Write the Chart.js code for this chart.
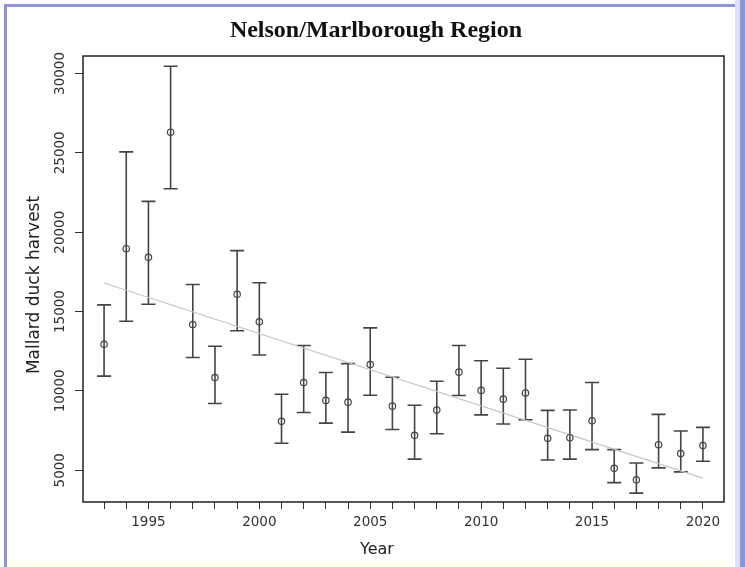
<!DOCTYPE html>
<html>
<head>
<meta charset="utf-8">
<title>Nelson/Marlborough Region</title>
<script src="https://cdn.jsdelivr.net/npm/chart.js@4.4.1/dist/chart.umd.min.js"></script>
<style>
  html, body { margin: 0; padding: 0; background: #fff; }
  #wrap { position: relative; width: 745px; height: 567px; overflow: hidden; }
  .frame { position: absolute; left: 4px; top: 4px; width: 731px; height: 570px;
           border-left: 3px solid #8c94da; border-top: 3px solid #8c94da; }
  .edge { position: absolute; left: 735px; top: 0; width: 10px; height: 567px;
          background: linear-gradient(to right, #dde0f6 0 5px, #8c94da 5px); }
  .foot { position: absolute; left: 7px; top: 561px; width: 728px; height: 6px; background: #fffff2; }
  canvas { position: absolute; left: 0; top: 0; }
</style>
</head>
<body>
<div id="wrap">
  <div class="frame"></div>
  <div class="edge"></div>
  <div class="foot"></div>
  <canvas id="chart" width="745" height="567"></canvas>
</div>
<script>
// ── Data ──────────────────────────────────────────────────
const years = [1993, 1994, 1995, 1996, 1997, 1998, 1999, 2000, 2001, 2002,
  2003, 2004, 2005, 2006, 2007, 2008, 2009, 2010, 2011, 2012,
  2013, 2014, 2015, 2016, 2017, 2018, 2019, 2020];
const harvest = [12940, 18960, 18420, 26300, 14180, 10840, 16090, 14350, 8080, 10530,
  9400, 9290, 11660, 9040, 7200, 8790, 11180, 10030, 9480, 9870,
  7010, 7050, 8120, 5120, 4400, 6610, 6050, 6560];
const upper = [15420, 25060, 21940, 30450, 16700, 12810, 18840, 16810, 9790, 12860,
  11160, 11720, 13970, 10860, 9100, 10610, 12860, 11900, 11430, 11990,
  8770, 8800, 10530, 6300, 5460, 8520, 7470, 7700];
const lower = [10930, 14390, 15460, 22740, 12100, 9210, 13790, 12260, 6700, 8640,
  7970, 7400, 9730, 7570, 5700, 7300, 9710, 8490, 7910, 8180,
  5650, 5700, 6300, 4220, 3560, 5150, 4900, 5570];
const trendYears = [1993, 2020];
const trendValues = [16800, 4500];
const yTicks = [5000, 10000, 15000, 20000, 25000, 30000];
const xLabelYears = [1995, 2000, 2005, 2010, 2015, 2020];

const TITLE = 'Nelson/Marlborough Region';
const X_TITLE = 'Year';
const Y_TITLE = 'Mallard duck harvest';

const INK = '#333';
const SANS = "'DejaVu Sans', Verdana, sans-serif";

// ── Error bars, plot box and axis titles ──────────────────
const decor = {
  id: 'decor',
  beforeDatasetsDraw(chart) {
    const { ctx, scales: { x, y } } = chart;
    ctx.save();
    ctx.strokeStyle = '#444';
    ctx.lineWidth = 1.6;
    years.forEach((yr, i) => {
      const px = x.getPixelForValue(yr);
      const top = y.getPixelForValue(upper[i]);
      const bot = y.getPixelForValue(lower[i]);
      ctx.beginPath();
      ctx.moveTo(px, top); ctx.lineTo(px, bot);
      ctx.moveTo(px - 7, top); ctx.lineTo(px + 7, top);
      ctx.moveTo(px - 7, bot); ctx.lineTo(px + 7, bot);
      ctx.stroke();
    });
    ctx.restore();
  },
  afterDraw(chart) {
    const { ctx, chartArea: a } = chart;
    ctx.save();
    ctx.strokeStyle = '#222';
    ctx.lineWidth = 1.5;
    ctx.strokeRect(a.left, a.top, a.right - a.left, a.bottom - a.top);

    ctx.fillStyle = '#222';
    ctx.font = `16px ${SANS}`;
    ctx.textAlign = 'center';
    ctx.textBaseline = 'middle';
    ctx.fillText(X_TITLE, 377, 550);

    ctx.translate(35, 285);
    ctx.rotate(-Math.PI / 2);
    ctx.font = `17px ${SANS}`;
    ctx.fillText(Y_TITLE, 0, 0);
    ctx.restore();
  },
};

new Chart(document.getElementById('chart'), {
  type: 'scatter',
  data: {
    datasets: [
      {
        type: 'line',
        label: 'trend',
        data: trendYears.map((yr, i) => ({ x: yr, y: trendValues[i] })),
        borderColor: '#c6c6c6',
        borderWidth: 1.2,
        pointRadius: 0,
        fill: false,
        order: 2,
      },
      {
        label: 'harvest',
        data: years.map((yr, i) => ({ x: yr, y: harvest[i] })),
        pointStyle: 'circle',
        pointRadius: 3.2,
        pointBorderWidth: 1.2,
        borderColor: '#444',
        backgroundColor: 'rgba(0,0,0,0)',
        order: 1,
      },
    ],
  },
  options: {
    responsive: false,
    animation: false,
    devicePixelRatio: 1,
    layout: { padding: { left: 28, right: 21, top: 0, bottom: 0 } },
    plugins: {
      legend: { display: false },
      tooltip: { enabled: false },
      title: {
        display: true,
        text: TITLE,
        color: '#111',
        font: { family: "'Liberation Serif', 'Times New Roman', serif", size: 24, weight: 'bold', lineHeight: 1.2 },
        padding: { top: 16, bottom: 11.2 },
      },
    },
    scales: {
      x: {
        type: 'linear',
        min: 1992.05,
        max: 2020.95,
        afterFit: (s) => { s.height = 65; },
        border: { display: false },
        grid: { drawOnChartArea: false, drawTicks: true, tickLength: 7, color: INK, lineWidth: 1 },
        ticks: {
          stepSize: 1,
          includeBounds: false,
          autoSkip: false,
          maxRotation: 0,
          minRotation: 0,
          padding: 5,
          color: INK,
          font: { family: SANS, size: 13.5 },
          callback: (v) => (xLabelYears.includes(v) ? String(v) : ''),
        },
      },
      y: {
        type: 'linear',
        min: 3000,
        max: 31100,
        afterFit: (s) => { s.width = 55; },
        afterBuildTicks: (s) => { s.ticks = yTicks.map((v) => ({ value: v })); },
        border: { display: false },
        grid: { drawOnChartArea: false, drawTicks: true, tickLength: 8, color: INK, lineWidth: 1 },
        ticks: {
          minRotation: 90,
          maxRotation: 90,
          crossAlign: 'center',
          padding: -7,
          color: INK,
          font: { family: SANS, size: 13.5 },
          callback: (v) => String(v),
        },
      },
    },
  },
  plugins: [decor],
});
</script>
</body>
</html>
